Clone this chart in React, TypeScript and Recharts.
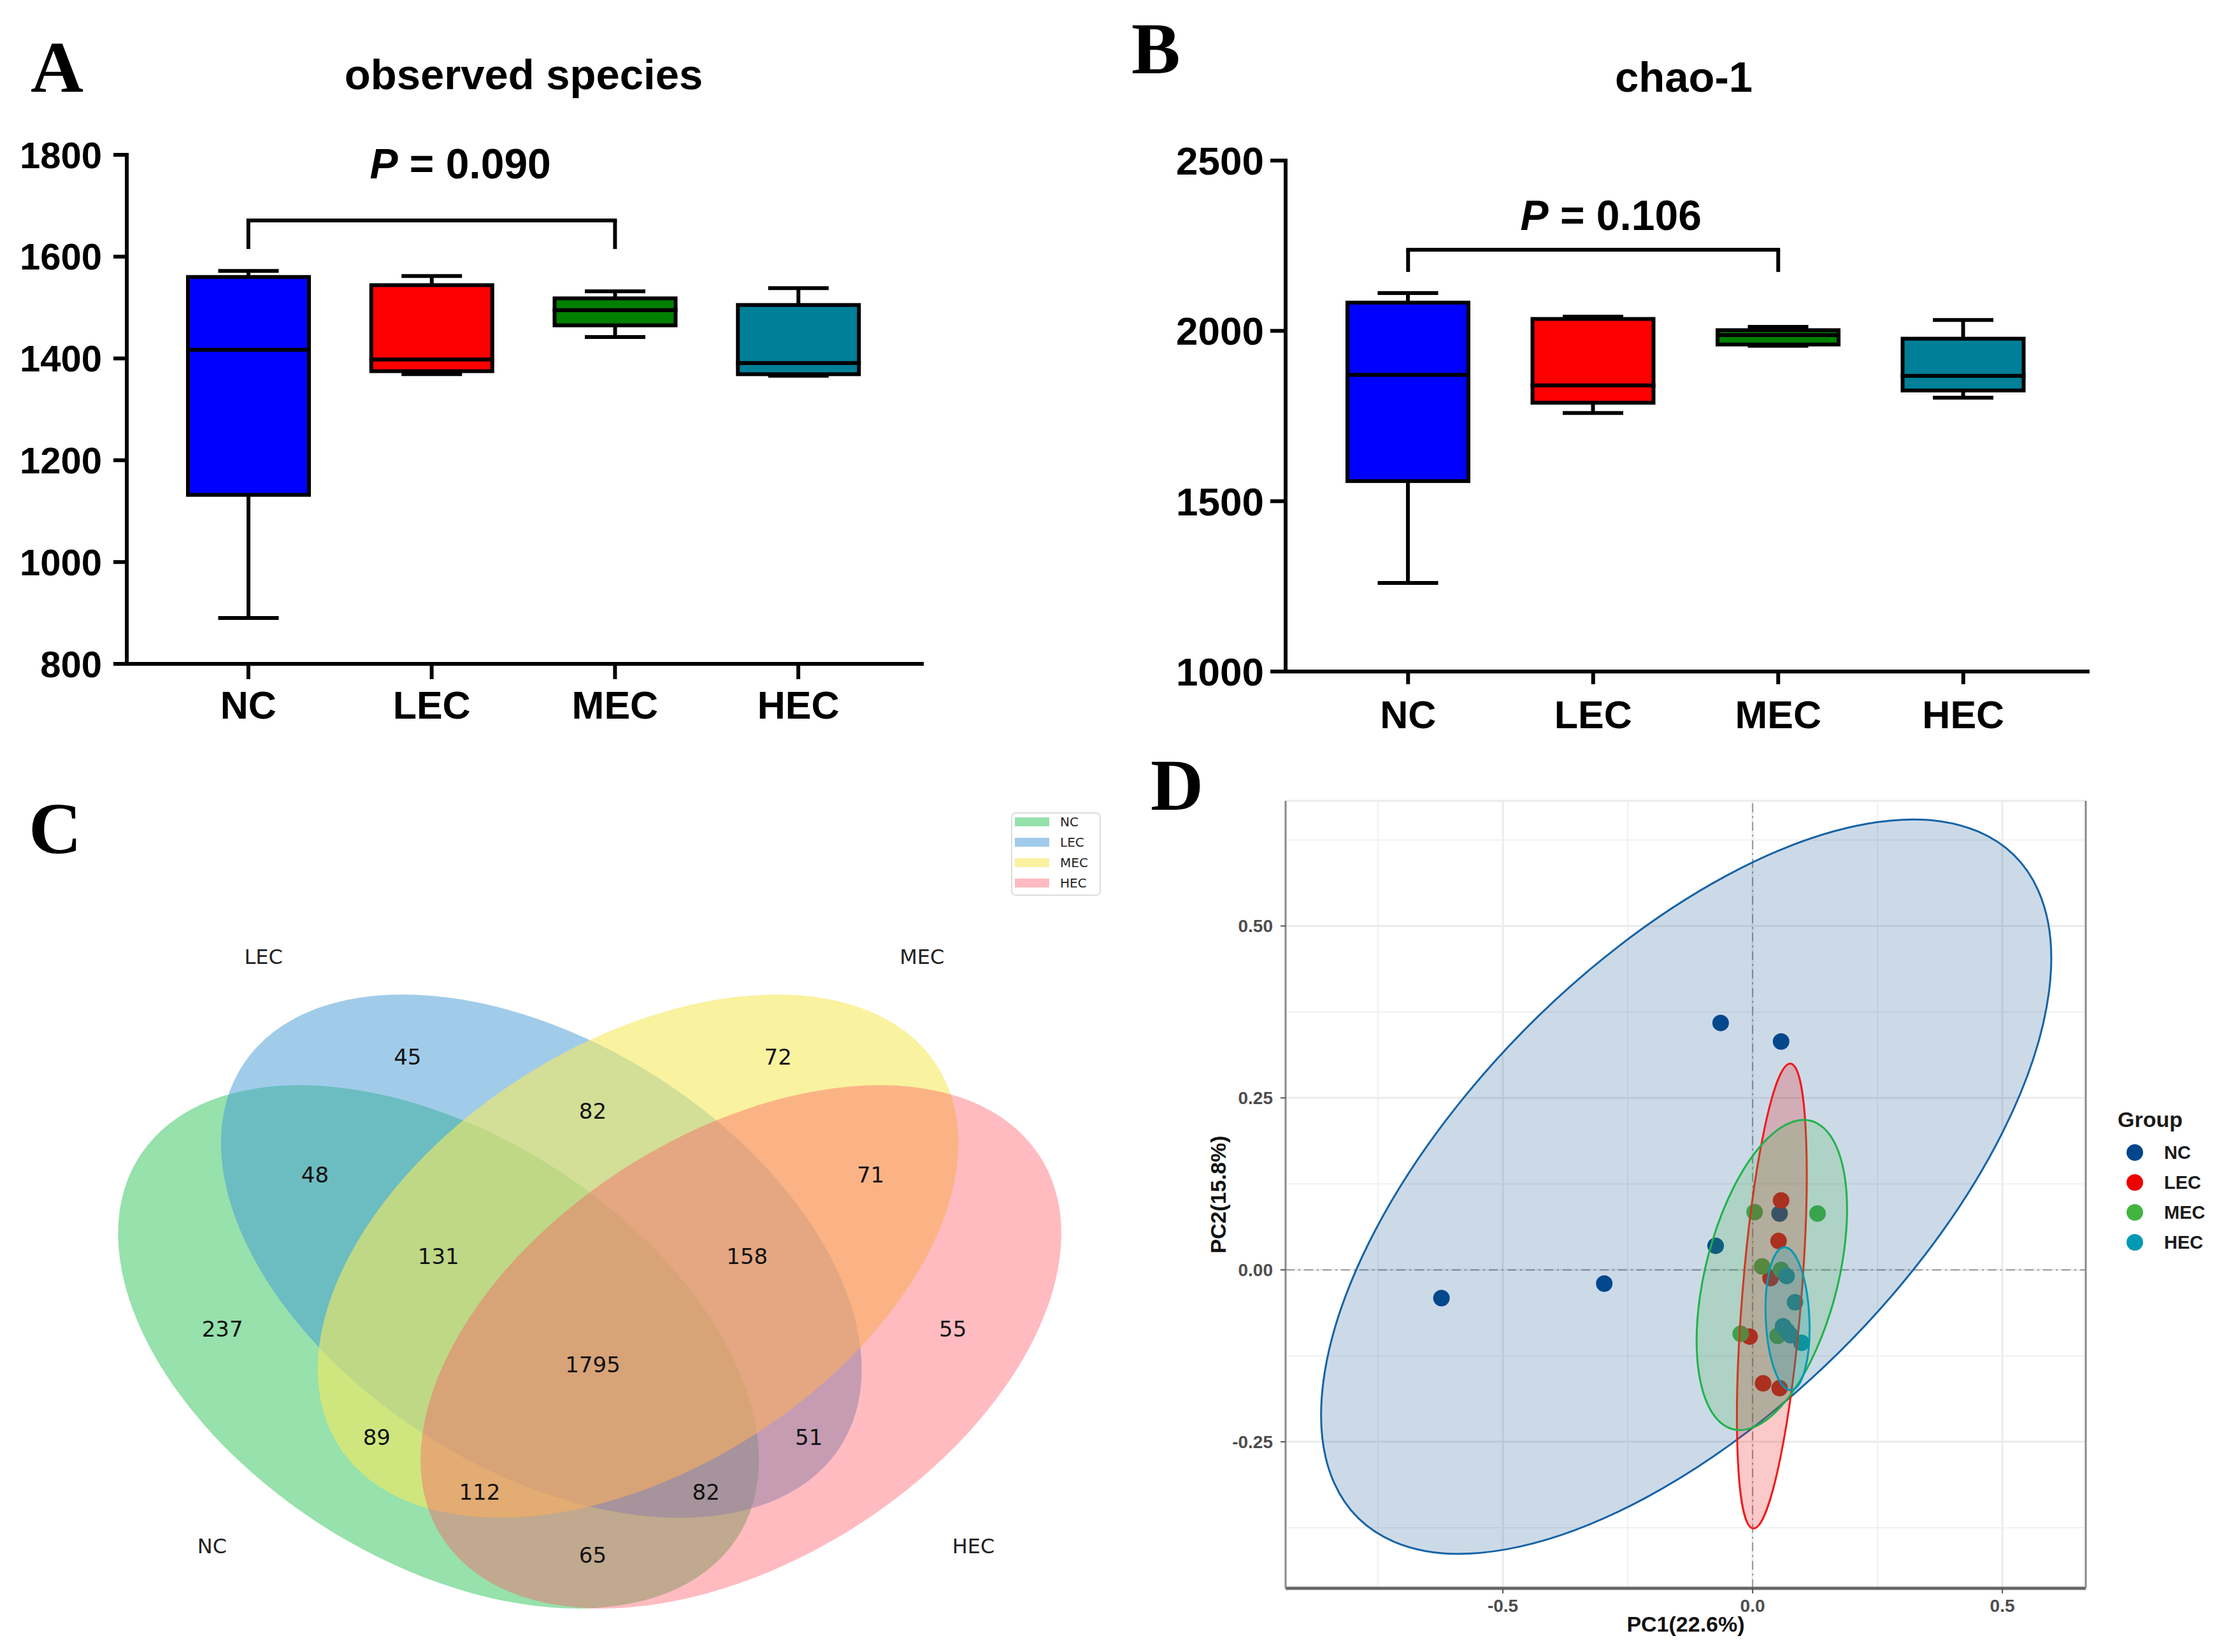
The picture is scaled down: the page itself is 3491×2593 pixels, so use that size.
import React from 'react';
import {
  ComposedChart,
  Bar,
  XAxis,
  YAxis,
  ReferenceLine,
  ReferenceArea,
  ScatterChart,
  Scatter,
  CartesianGrid,
  Legend,
} from 'recharts';

const SANS = '"Liberation Sans", Arial, Helvetica, sans-serif';
const SERIF = '"Liberation Serif", "Times New Roman", serif';
const DEJAVU = '"DejaVu Sans", sans-serif';

// ---------- shared groups ----------
const groupNames = ['NC', 'LEC', 'MEC', 'HEC'];
const boxFill = ['#0000FF', '#FF0000', '#008000', '#007F99'];

// ---------- Panel A: observed species ----------
const obsMin = [890, 1369, 1442, 1366];
const obsQ1 = [1132, 1375, 1465, 1369];
const obsMedian = [1417, 1398, 1495, 1391];
const obsQ3 = [1560, 1544, 1518, 1505];
const obsMax = [1572, 1562, 1532, 1538];
const obsTicks = [800, 1000, 1200, 1400, 1600, 1800];
const obsDomain = [800, 1800];
const obsBracket = { from: 'NC', to: 'MEC', top: 1671, bottom: 1615, p: '0.090' };

// ---------- Panel B: chao-1 ----------
const chaoMin = [1260, 1759, 1956, 1804];
const chaoQ1 = [1559, 1789, 1960, 1825];
const chaoMedian = [1871, 1840, 1988, 1868];
const chaoQ3 = [2083, 2035, 2002, 1977];
const chaoMax = [2111, 2042, 2012, 2032];
const chaoTicks = [1000, 1500, 2000, 2500];
const chaoDomain = [1000, 2500];
const chaoBracket = { from: 'NC', to: 'MEC', top: 2238, bottom: 2173, p: '0.106' };

// ---------- Panel C: Venn ----------
const vennSets = ['NC', 'LEC', 'MEC', 'HEC'];
const vennCX = [0.35, 0.45, 0.544, 0.644];
const vennCY = [0.4, 0.5, 0.5, 0.4];
const vennWidth = [0.72, 0.72, 0.72, 0.72];
const vennHeight = [0.45, 0.45, 0.45, 0.45];
const vennAngle = [140, 140, 40, 40];
const vennColor = ['rgb(45,195,90)', 'rgb(65,153,213)', 'rgb(245,234,95)', 'rgb(255,85,98)'];
const vennAlpha = [0.5, 0.5, 0.6, 0.4];
const vennXDomain = [0, 1];
const vennYDomain = [0.1, 1];
const vennCounts = ['237', '45', '72', '55', '48', '89', '65', '82', '51', '71', '131', '82', '112', '158', '1795'];
const vennCountX = [0.14, 0.32, 0.68, 0.85, 0.23, 0.29, 0.5, 0.5, 0.71, 0.77, 0.35, 0.61, 0.39, 0.65, 0.5];
const vennCountY = [0.42, 0.72, 0.72, 0.42, 0.59, 0.3, 0.17, 0.66, 0.3, 0.59, 0.5, 0.24, 0.24, 0.5, 0.38];
const vennNameX = [0.13, 0.18, 0.82, 0.87];
const vennNameY = [0.18, 0.83, 0.83, 0.18];

// ---------- Panel D: PCoA ----------
const ncPC1 = [-0.064, 0.057, -0.074, -0.297, -0.623, 0.054];
const ncPC2 = [0.359, 0.332, 0.035, -0.02, -0.041, 0.082];
const lecPC1 = [0.057, 0.052, 0.036, -0.006, 0.021, 0.054];
const lecPC2 = [0.101, 0.042, -0.012, -0.097, -0.165, -0.172];
const mecPC1 = [0.004, 0.13, 0.019, 0.057, -0.024, 0.05];
const mecPC2 = [0.084, 0.082, 0.005, 0.0, -0.093, -0.096];
const hecPC1 = [0.068, 0.085, 0.061, 0.069, 0.076, 0.098];
const hecPC2 = [-0.009, -0.047, -0.082, -0.089, -0.095, -0.106];
const pcaColor = ['#00468B', '#ED0000', '#42B540', '#0099B4'];
const pcaFill = ['#0E4F93', '#ED0000', '#42B540', '#0099B4'];
const pcaStroke = ['#1663A6', '#F01A1A', '#21B24A', '#0099B4'];
const pcaEllCX = [-0.133, 0.0385, 0.0385, 0.07];
const pcaEllCY = [0.121, -0.038, -0.0075, -0.071];
const pcaEllA = [0.826, 0.34, 0.2385, 0.104];
const pcaEllB = [0.37, 0.059, 0.129, 0.0436];
const pcaEllAngle = [31.4, 83.6, 67.2, 94];
const pcaXDomain = [-0.935, 0.667];
const pcaYDomain = [-0.463, 0.682];
const pcaXTicks = [-0.5, 0, 0.5];
const pcaYTicks = [-0.25, 0, 0.25, 0.5];
const pcaXMinor = [-0.75, -0.25, 0.25];
const pcaYMinor = [-0.375, -0.125, 0.125, 0.375, 0.625];

// ---------- helpers ----------
function boxRows(min: number[], q1: number[], med: number[], q3: number[], max: number[]) {
  return groupNames.map((name, i) => ({
    name,
    color: boxFill[i],
    base: min[i],
    lowW: q1[i] - min[i],
    lowBox: med[i] - q1[i],
    upBox: q3[i] - med[i],
    upW: max[i] - q3[i],
  }));
}

const BoxRect = (p: any) => {
  if (!Number.isFinite(p.x) || !Number.isFinite(p.y)) return null;
  const fill = (p.payload && p.payload.color) || boxFill[p.index] || '#888';
  return <rect x={p.x} y={p.y} width={p.width} height={Math.max(0, p.height)} fill={fill} stroke="#000" strokeWidth={6} />;
};

const whisker = (end: 'low' | 'high') => (p: any) => {
  if (!Number.isFinite(p.x) || !Number.isFinite(p.y)) return null;
  const { x, y, width, height } = p;
  const cx = x + width / 2;
  const cap = end === 'low' ? y + height : y;
  return (
    <g>
      <line x1={cx} x2={cx} y1={y} y2={y + height} stroke="#000" strokeWidth={6} />
      <line x1={cx - width / 4} x2={cx + width / 4} y1={cap} y2={cap} stroke="#000" strokeWidth={6} />
    </g>
  );
};

function PValueLabel(props: any) {
  const { viewBox, pText, lift, shift, size } = props;
  if (!viewBox) return null;
  const cx = viewBox.x + viewBox.width / 2 + shift;
  return (
    <text x={cx} y={viewBox.y - lift} textAnchor="middle" fontFamily={SANS} fontWeight={700} fontSize={size} fill="#000">
      <tspan fontStyle="italic">P</tspan>
      {` = ${pText}`}
    </text>
  );
}

function ellipseShape(a: number, b: number, angle: number, fill: string, fillOpacity: number, stroke: string, strokeWidth: number) {
  return (p: any) => {
    const { x, y, width, height } = p;
    if (![x, y, width, height].every((v) => Number.isFinite(v))) return null;
    const cx = x + width / 2;
    const cy = y + height / 2;
    const kx = width / (2 * a);
    const ky = height / (2 * b);
    return (
      <ellipse
        cx={0}
        cy={0}
        rx={a}
        ry={b}
        transform={`translate(${cx},${cy}) scale(${kx},${-ky}) rotate(${angle})`}
        fill={fill}
        fillOpacity={fillOpacity}
        stroke={stroke}
        strokeWidth={strokeWidth}
        vectorEffect="non-scaling-stroke"
      />
    );
  };
}

// ---------- box panel ----------
function BoxPanel(props: any) {
  const { rows, width, height, margin, domain, ticks, yWidth, yTickSize, yTickMargin, xTickSize, xTickMargin, yFont, xFont, bracket, pLift, pShift } = props;
  const axisLine = { stroke: '#000', strokeWidth: 6, strokeLinecap: 'square' as const };
  const tickLine = { stroke: '#000', strokeWidth: 6 };
  return (
    <ComposedChart width={width} height={height} data={rows} margin={margin} barSize={190}>
      <XAxis
        dataKey="name"
        type="category"
        padding={{ left: 47, right: 50 }}
        axisLine={axisLine}
        tickLine={tickLine}
        tickSize={xTickSize}
        tickMargin={xTickMargin}
        tick={{ fill: '#000', fontSize: xFont, fontWeight: 700, fontFamily: SANS }}
        height={100}
        interval={0}
      />
      <YAxis
        type="number"
        domain={domain}
        ticks={ticks}
        allowDataOverflow
        interval={0}
        width={yWidth}
        axisLine={axisLine}
        tickLine={tickLine}
        tickSize={yTickSize}
        tickMargin={yTickMargin}
        tick={{ fill: '#000', fontSize: yFont, fontWeight: 700, fontFamily: SANS }}
      />
      <Bar dataKey="base" stackId="box" fill="transparent" isAnimationActive={false} />
      <Bar dataKey="lowW" stackId="box" shape={whisker('low')} isAnimationActive={false} />
      <Bar dataKey="lowBox" stackId="box" shape={BoxRect} isAnimationActive={false} />
      <Bar dataKey="upBox" stackId="box" shape={BoxRect} isAnimationActive={false} />
      <Bar dataKey="upW" stackId="box" shape={whisker('high')} isAnimationActive={false} />
      <ReferenceLine
        segment={[{ x: bracket.from, y: bracket.top }, { x: bracket.to, y: bracket.top }]}
        stroke="#000"
        strokeWidth={6}
        strokeLinecap="square"
        label={<PValueLabel pText={bracket.p} lift={pLift} shift={pShift} size={66} />}
      />
      <ReferenceLine segment={[{ x: bracket.from, y: bracket.top }, { x: bracket.from, y: bracket.bottom }]} stroke="#000" strokeWidth={6} />
      <ReferenceLine segment={[{ x: bracket.to, y: bracket.top }, { x: bracket.to, y: bracket.bottom }]} stroke="#000" strokeWidth={6} />
    </ComposedChart>
  );
}

// ---------- Venn ----------
const vennCountRows = vennCounts.map((label, i) => ({ x: vennCountX[i], y: vennCountY[i], label }));
const vennNameRows = vennSets.map((label, i) => ({ x: vennNameX[i], y: vennNameY[i], label }));

const VennCountText = (p: any) => (
  <text x={p.cx} y={p.cy} textAnchor="middle" dominantBaseline="central" fontSize={34} fontFamily={DEJAVU} fill="#111">
    {p.payload.label}
  </text>
);
const VennNameText = (p: any) => (
  <text x={p.cx} y={p.cy} textAnchor="middle" dominantBaseline="central" fontSize={32} fontFamily={DEJAVU} fill="#222">
    {p.payload.label}
  </text>
);

const VennLegend = () => (
  <svg width={141} height={131} style={{ display: 'block' }}>
    <rect x={1} y={1} width={139} height={129} rx={6} fill="#fff" stroke="#DDDDDD" strokeWidth={2} />
    {vennSets.map((s, i) => (
      <g key={s}>
        <rect x={6} y={8 + 32 * i} width={54} height={14} fill={vennColor[i]} fillOpacity={vennAlpha[i]} />
        <text x={77} y={22 + 32 * i} fontSize={20} fontFamily={DEJAVU} fill="#222">
          {s}
        </text>
      </g>
    ))}
  </svg>
);

function VennPanel() {
  return (
    <ScatterChart width={1750} height={1413} margin={{ top: 80, right: 12, bottom: 52, left: 123 }}>
      <XAxis type="number" dataKey="x" domain={vennXDomain} hide allowDataOverflow />
      <YAxis type="number" dataKey="y" domain={vennYDomain} hide allowDataOverflow />
      {vennSets.map((s, i) => (
        <ReferenceArea
          key={s}
          x1={vennCX[i] - vennWidth[i] / 2}
          x2={vennCX[i] + vennWidth[i] / 2}
          y1={vennCY[i] - vennHeight[i] / 2}
          y2={vennCY[i] + vennHeight[i] / 2}
          ifOverflow="visible"
          shape={ellipseShape(vennWidth[i] / 2, vennHeight[i] / 2, vennAngle[i], vennColor[i], vennAlpha[i], 'none', 0)}
        />
      ))}
      <Scatter name="counts" data={vennCountRows} shape={VennCountText} isAnimationActive={false} />
      <Scatter name="sets" data={vennNameRows} shape={VennNameText} isAnimationActive={false} />
      <Legend
        layout="vertical"
        align="center"
        verticalAlign="middle"
        wrapperStyle={{ position: 'absolute', left: 1587, top: 95, width: 141, height: 131 }}
        content={() => <VennLegend />}
      />
    </ScatterChart>
  );
}

// ---------- PCA ----------
const pcaGroups = [
  { name: 'NC', rows: ncPC1.map((x, i) => ({ x, y: ncPC2[i] })) },
  { name: 'LEC', rows: lecPC1.map((x, i) => ({ x, y: lecPC2[i] })) },
  { name: 'MEC', rows: mecPC1.map((x, i) => ({ x, y: mecPC2[i] })) },
  { name: 'HEC', rows: hecPC1.map((x, i) => ({ x, y: hecPC2[i] })) },
];

const dotShape = (color: string) => (p: any) => <circle cx={p.cx} cy={p.cy} r={13} fill={color} />;

const PcaLegend = () => (
  <svg width={180} height={280} style={{ display: 'block' }}>
    <text x={14} y={69} fontSize={34} fontWeight={700} fontFamily={SANS} fill="#1a1a1a">
      Group
    </text>
    {groupNames.map((g, i) => (
      <g key={g}>
        <circle cx={41} cy={109 + 47 * i} r={13} fill={pcaColor[i]} />
        <text x={87} y={119 + 47 * i} fontSize={29} fontWeight={700} fontFamily={SANS} fill="#1a1a1a">
          {g}
        </text>
      </g>
    ))}
  </svg>
);

function PcaPanel() {
  const tick = { fill: '#4D4D4D', fontSize: 28, fontWeight: 700, fontFamily: SANS };
  return (
    <ScatterChart width={1741} height={1413} margin={{ top: 77, right: 217, bottom: 0, left: 138 }}>
      <CartesianGrid stroke="#EBEBEB" strokeWidth={3} />
      {pcaXMinor.map((v) => (
        <ReferenceLine key={'xm' + v} x={v} stroke="#F0F0F0" strokeWidth={2} zIndex={-100} />
      ))}
      {pcaYMinor.map((v) => (
        <ReferenceLine key={'ym' + v} y={v} stroke="#F0F0F0" strokeWidth={2} zIndex={-100} />
      ))}
      <XAxis
        type="number"
        dataKey="x"
        domain={pcaXDomain}
        ticks={pcaXTicks}
        allowDataOverflow
        interval={0}
        tickFormatter={(v: number) => v.toFixed(1)}
        height={100}
        axisLine={{ stroke: '#666666', strokeWidth: 5 }}
        tickLine={{ stroke: '#555', strokeWidth: 2 }}
        tickSize={8}
        tickMargin={9}
        tick={tick}
        label={{ value: 'PC1(22.6%)', position: 'insideBottom', offset: 32, fill: '#111', fontSize: 34, fontWeight: 700, fontFamily: SANS }}
      />
      <YAxis
        type="number"
        dataKey="y"
        domain={pcaYDomain}
        ticks={pcaYTicks}
        allowDataOverflow
        interval={0}
        tickFormatter={(v: number) => v.toFixed(2)}
        width={130}
        axisLine={{ stroke: '#8C8C8C', strokeWidth: 3 }}
        tickLine={{ stroke: '#555', strokeWidth: 2 }}
        tickSize={8}
        tickMargin={12}
        tick={tick}
        label={{ value: 'PC2(15.8%)', angle: -90, position: 'insideLeft', offset: 24, fill: '#111', fontSize: 34, fontWeight: 700, fontFamily: SANS, style: { textAnchor: 'middle' } }}
      />
      <ReferenceLine x={0} stroke="#9A9A9A" strokeWidth={2} strokeDasharray="14 6 3 6" zIndex={50} />
      <ReferenceLine y={0} stroke="#9A9A9A" strokeWidth={2} strokeDasharray="14 6 3 6" zIndex={50} />
      <ReferenceLine x={pcaXDomain[1]} stroke="#8C8C8C" strokeWidth={3} zIndex={500} />
      {pcaGroups.map((g, i) => (
        <Scatter key={g.name} name={g.name} data={g.rows} shape={dotShape(pcaColor[i])} isAnimationActive={false} />
      ))}
      {pcaGroups.map((g, i) => (
        <ReferenceArea
          key={'e' + g.name}
          x1={pcaEllCX[i] - pcaEllA[i]}
          x2={pcaEllCX[i] + pcaEllA[i]}
          y1={pcaEllCY[i] - pcaEllB[i]}
          y2={pcaEllCY[i] + pcaEllB[i]}
          ifOverflow="visible"
          zIndex={700}
          shape={ellipseShape(pcaEllA[i], pcaEllB[i], pcaEllAngle[i], pcaFill[i], 0.21, pcaStroke[i], 3)}
        />
      ))}
      <Legend
        layout="vertical"
        align="center"
        verticalAlign="middle"
        wrapperStyle={{ position: 'absolute', left: 1560, top: 520, width: 180, height: 280 }}
        content={() => <PcaLegend />}
      />
    </ScatterChart>
  );
}

// ---------- App ----------
export default function App() {
  const obsRows = boxRows(obsMin, obsQ1, obsMedian, obsQ3, obsMax);
  const chaoRows = boxRows(chaoMin, chaoQ1, chaoMedian, chaoQ3, chaoMax);
  return (
    <div style={{ position: 'absolute', left: 0, top: 0, width: 3491, height: 2593, background: '#fff', overflow: 'hidden' }}>
      <svg width={3491} height={2593} style={{ position: 'absolute', left: 0, top: 0 }}>
        <text x={48} y={144} fontFamily={SERIF} fontWeight={700} fontSize={115} fill="#000">A</text>
        <text x={1776} y={115} fontFamily={SERIF} fontWeight={700} fontSize={115} fill="#000">B</text>
        <text x={45} y={1339} fontFamily={SERIF} fontWeight={700} fontSize={115} fill="#000">C</text>
        <text x={1806} y={1271} fontFamily={SERIF} fontWeight={700} fontSize={115} fill="#000">D</text>
        <text x={822} y={140} textAnchor="middle" fontFamily={SANS} fontWeight={700} fontSize={67} fill="#000">observed species</text>
        <text x={2643} y={144} textAnchor="middle" fontFamily={SANS} fontWeight={700} fontSize={67} fill="#000">chao-1</text>
      </svg>
      <div style={{ position: 'absolute', left: 0, top: 0 }}>
        <BoxPanel
          rows={obsRows}
          width={1500}
          height={1180}
          margin={{ top: 243, right: 53, bottom: 38, left: 59 }}
          domain={obsDomain}
          ticks={obsTicks}
          yWidth={140}
          yTickSize={21}
          yTickMargin={18}
          xTickSize={24}
          xTickMargin={19}
          yFont={58}
          xFont={61}
          bracket={obsBracket}
          pLift={66}
          pShift={45}
        />
      </div>
      <div style={{ position: 'absolute', left: 1750, top: 0 }}>
        <BoxPanel
          rows={chaoRows}
          width={1741}
          height={1180}
          margin={{ top: 252, right: 214, bottom: 26, left: 118 }}
          domain={chaoDomain}
          ticks={chaoTicks}
          yWidth={150}
          yTickSize={24}
          yTickMargin={10}
          xTickSize={20}
          xTickMargin={26}
          yFont={62}
          xFont={61}
          bracket={chaoBracket}
          pLift={31}
          pShift={28}
        />
      </div>
      <div style={{ position: 'absolute', left: 0, top: 1180 }}>
        <VennPanel />
      </div>
      <div style={{ position: 'absolute', left: 1750, top: 1180 }}>
        <PcaPanel />
      </div>
    </div>
  );
}
